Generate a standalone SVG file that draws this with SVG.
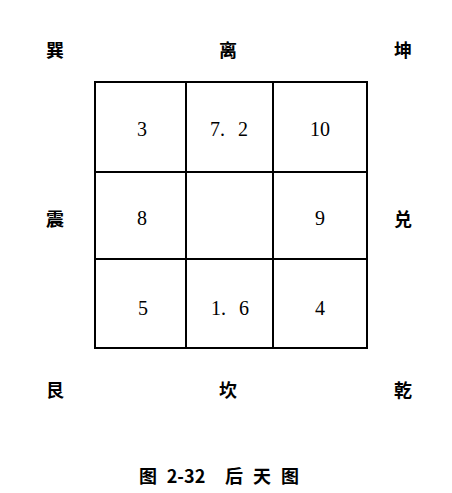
<svg xmlns="http://www.w3.org/2000/svg" width="452" height="493" viewBox="0 0 452 493">
<style>
.lbl{font-family:"Noto Sans CJK SC","Noto Sans CJK JP",sans-serif;font-size:18px;font-weight:bold;fill:#000;text-anchor:middle;dominant-baseline:central}
.num{font-family:"Liberation Serif","DejaVu Serif",serif;font-size:20px;fill:#000;text-anchor:middle;dominant-baseline:central;word-spacing:8px}
.cap{font-family:"Noto Sans CJK SC",sans-serif;font-size:18px;font-weight:bold;fill:#000;text-anchor:middle;dominant-baseline:central}
.cell{fill:none;stroke:#000;stroke-width:2}
</style>
<rect width="452" height="493" fill="#fff"/>
<g id="grid">
<rect class="cell" x="95" y="82" width="272" height="266"/>
<line class="cell" x1="186" y1="82" x2="186" y2="348"/>
<line class="cell" x1="273" y1="82" x2="273" y2="348"/>
<line class="cell" x1="95" y1="172" x2="367" y2="172"/>
<line class="cell" x1="95" y1="259" x2="367" y2="259"/>
</g>
<g id="numbers">
<text class="num" x="142" y="129">3</text>
<text class="num" x="229" y="129">7. 2</text>
<text class="num" x="320" y="129">10</text>
<text class="num" x="142" y="218">8</text>
<text class="num" x="320" y="218">9</text>
<text class="num" x="143" y="308">5</text>
<text class="num" x="230" y="308">1. 6</text>
<text class="num" x="320" y="308">4</text>
</g>
<g id="labels">
<text class="lbl" x="55" y="49">巽</text>
<text class="lbl" x="228" y="49">离</text>
<text class="lbl" x="403" y="49">坤</text>
<text class="lbl" x="55" y="218">震</text>
<text class="lbl" x="403" y="218">兑</text>
<text class="lbl" x="55" y="389">艮</text>
<text class="lbl" x="228" y="389">坎</text>
<text class="lbl" x="403" y="389">乾</text>
</g>
<g id="caption">
<text class="cap" y="475"><tspan x="148">图</tspan><tspan x="186">2-32</tspan><tspan x="234">后</tspan><tspan x="262">天</tspan><tspan x="290">图</tspan></text>
</g>
</svg>
